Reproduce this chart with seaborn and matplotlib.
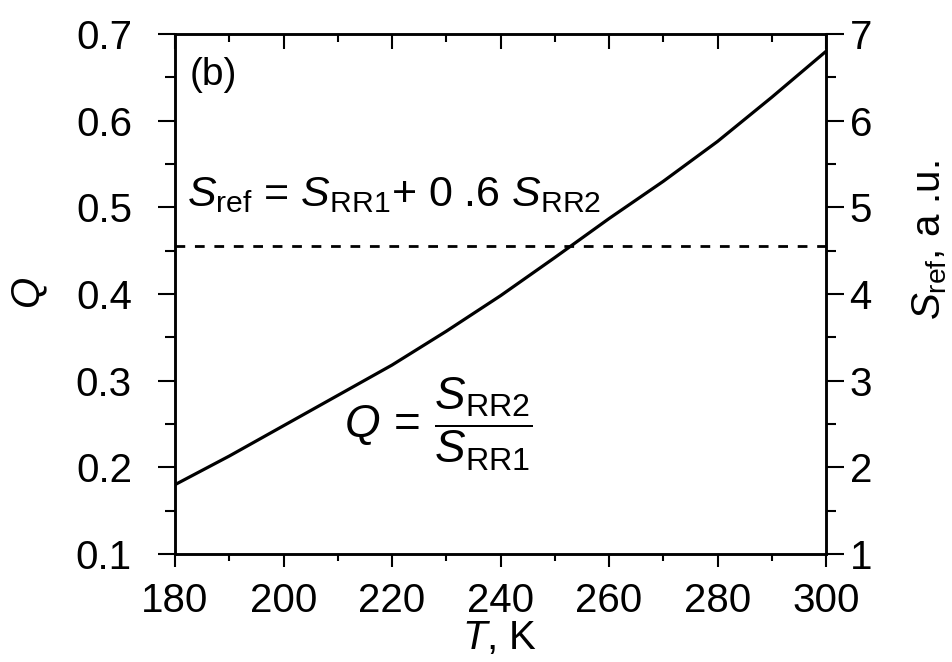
import numpy as np
import pandas as pd
import matplotlib
matplotlib.use("Agg")
import matplotlib.pyplot as plt
from matplotlib.ticker import MultipleLocator
import seaborn as sns

# data
T = [180, 190, 200, 210, 220, 230, 240, 250, 260, 270, 280, 290, 300]
Q = [0.180, 0.213, 0.248, 0.283, 0.318, 0.357, 0.398, 0.442, 0.487, 0.530, 0.576, 0.627, 0.680]
T_ref = [180, 300]
S_ref = [4.55, 4.55]

sns.set_style("ticks")
plt.rcParams['font.family'] = ['Liberation Sans', 'DejaVu Sans']
plt.rcParams['mathtext.fontset'] = 'custom'
plt.rcParams['mathtext.rm'] = 'Liberation Sans'
plt.rcParams['mathtext.it'] = 'Liberation Sans:italic'
plt.rcParams['mathtext.bf'] = 'Liberation Sans:bold'
for key in ('text.color', 'xtick.color', 'ytick.color', 'axes.labelcolor', 'axes.edgecolor'):
    plt.rcParams[key] = 'black'

df = pd.DataFrame({"T": T, "Q": Q})
df_ref = pd.DataFrame({"T": T_ref, "S": S_ref})

fig = plt.figure(figsize=(9.53, 6.62), dpi=100)
ax = fig.add_axes([175/953, 1-554/662, 651/953, 520/662])
ax2 = ax.twinx()

sns.lineplot(data=df, x="T", y="Q", ax=ax, color="black", linewidth=2.3)
sns.lineplot(data=df_ref, x="T", y="S", ax=ax2, color="black", linewidth=2.0,
             linestyle=(0, (3.5, 3.5)))

ax.set_xlim(180, 300)
ax.set_ylim(0.1, 0.7)
ax2.set_ylim(1, 7)
ax.xaxis.set_major_locator(MultipleLocator(20))
ax.xaxis.set_minor_locator(MultipleLocator(10))
ax.yaxis.set_major_locator(MultipleLocator(0.1))
ax.yaxis.set_minor_locator(MultipleLocator(0.05))
ax2.yaxis.set_major_locator(MultipleLocator(1))
ax2.yaxis.set_minor_locator(MultipleLocator(0.5))
ax.yaxis.set_major_formatter(matplotlib.ticker.FormatStrFormatter('%.1f'))
ax.set_xlabel("")
ax.set_ylabel("")
ax2.set_ylabel("")

fs = 29
ax.tick_params(axis='x', which='major', direction='out', length=9, width=1.5,
               labelsize=fs, pad=11, top=True, colors='black')
ax.tick_params(axis='x', which='minor', direction='out', length=5, width=1.5, top=True)
ax.tick_params(axis='y', which='major', direction='out', length=12, width=1.5,
               labelsize=fs, pad=19, colors='black')
ax.tick_params(axis='y', which='minor', direction='out', length=7, width=1.5)
ax2.tick_params(axis='y', which='major', direction='out', length=13, width=1.5,
                labelsize=fs, pad=4, colors='black')
ax2.tick_params(axis='y', which='minor', direction='out', length=7, width=1.5)
# top ticks point inward
for t in ax.xaxis.get_major_ticks():
    t.tick2line.set_marker(matplotlib.lines.TICKDOWN)
    t.tick2line.set_markersize(11)
for t in ax.xaxis.get_minor_ticks():
    t.tick2line.set_marker(matplotlib.lines.TICKDOWN)
    t.tick2line.set_markersize(6)

for a in (ax, ax2):
    for s in a.spines.values():
        s.set_visible(True)
        s.set_linewidth(1.8)
        s.set_color("black")

# axis titles
fig.text(500/953, 1-638/662, r"$T$, K", fontsize=fs, ha="center", va="center")
fig.text(30/953, 1-293/662, r"$Q$", fontsize=fs, ha="center", va="center", rotation=90)
fig.text(930/953, 1-240/662, r"$S_{\rm ref}$, a .u.", fontsize=fs, ha="center",
         va="center", rotation=90)

ax.text(0.023, 0.921, "(b)", fontsize=28, va="center", ha="left", transform=ax.transAxes)
ax.text(0.018, 0.69, r"$S_{\rm ref}$ = $S_{\rm RR1}$+ 0 .6 $S_{\rm RR2}$",
        fontsize=31, va="center", ha="left", transform=ax.transAxes)
ax.text(0.26, 0.25, r"$Q\/=\/\dfrac{S_{\rm RR2}}{S_{\rm RR1}}$",
        fontsize=33, va="center", ha="left", transform=ax.transAxes)

fig.savefig("out.png", dpi=100)
